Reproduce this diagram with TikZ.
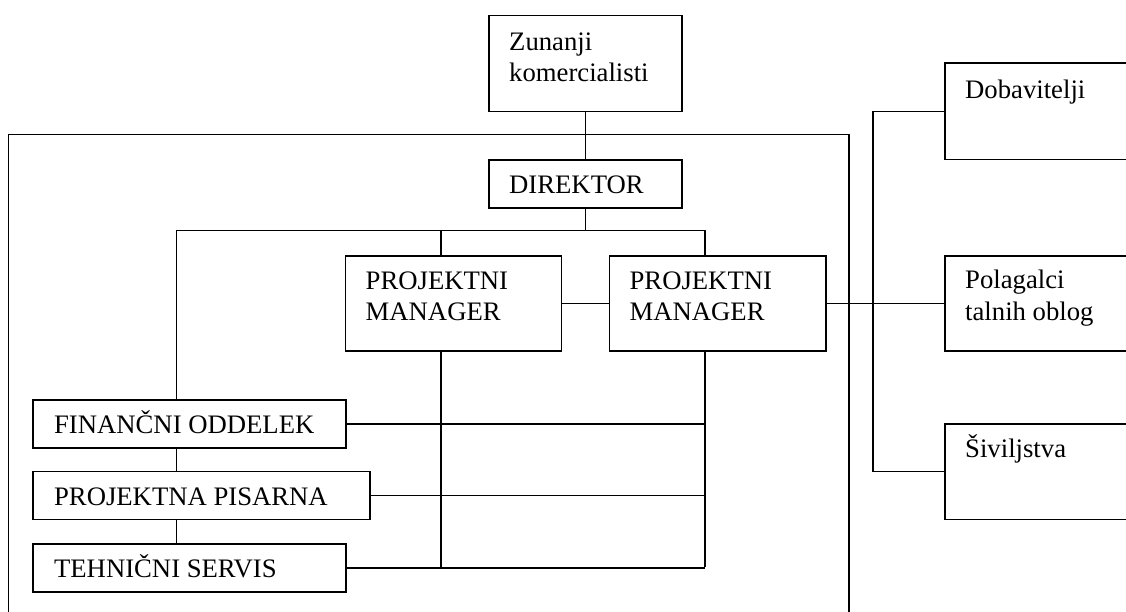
\documentclass[tikz,border=0pt]{standalone}
\usepackage{fontspec}
\setmainfont{Liberation Serif}
\begin{document}
\begin{tikzpicture}[x=1pt,y=-1pt,
  unit/.style={draw, line width=1.5pt, rectangle, inner sep=0pt, anchor=north west},
  caption/.style={inner sep=0pt, anchor=base west, align=left,
    font=\fontsize{26.7}{31.3}\selectfont},
  link/.style={line width=1.5pt}]
\useasboundingbox (0,0) rectangle (1126,611);
\clip (0,0) rectangle (1126,611);

% company frame (open below the picture edge)
\draw[link] (8.3,134.7) rectangle (849.2,700);

% boxes
\node[unit, minimum width=192.8pt, minimum height=96pt] (zun) at (488.3,14.7) {};
\node[unit, minimum width=192.8pt, minimum height=48pt] (dir) at (488.3,159) {};
\node[unit, minimum width=216.2pt, minimum height=95.3pt] (pm1) at (344.7,255) {};
\node[unit, minimum width=216.5pt, minimum height=95.3pt] (pm2) at (608.6,255) {};
\node[unit, minimum width=313.1pt, minimum height=48pt] (fin) at (32.3,399) {};
\node[unit, minimum width=336.8pt, minimum height=48pt] (pis) at (32.3,470.7) {};
\node[unit, minimum width=313.1pt, minimum height=48.3pt] (teh) at (32.3,543) {};
\node[unit, minimum width=200pt, minimum height=96.4pt] (dob) at (944.3,62.3) {};
\node[unit, minimum width=200pt, minimum height=95.3pt] (pol) at (944.3,255) {};
\node[unit, minimum width=200pt, minimum height=95.7pt] (siv) at (944.3,423) {};

% texts (multi-line captions sit on the baseline of their last line)
\node[caption] (zunT) at (509,81.3) {Zunanji\\komercialisti};
\node[caption] (dirT) at (509,193.3) {DIREKTOR};
\node[caption] (pm1T) at (365.5,320.3) {PROJEKTNI\\MANAGER};
\node[caption] (pm2T) at (629.4,320.3) {PROJEKTNI\\MANAGER};
\node[caption] (finT) at (53.9,433.7) {FINANČNI ODDELEK};
\node[caption] (pisT) at (53.9,505.3) {PROJEKTNA PISARNA};
\node[caption] (tehT) at (53.9,577.7) {TEHNIČNI SERVIS};
\node[caption] (dobT) at (965,98.3) {Dobavitelji};
\node[caption] (polT) at (965,320) {Polagalci\\talnih oblog};
\node[caption] (sivT) at (965,457.7) {Šiviljstva};

% routing points
\coordinate (busL) at (176.7,230.3);
\coordinate (busR) at (704.8,230.3);
\coordinate (pm1x) at (441,0);
\coordinate (supx) at (873.2,0);
\coordinate (lowY) at (0,566.7);

% connectors
\draw[link] (zun.south) -- (dir.north);
\draw[link] (dir.south) -- (dir.south |- busL);
\draw[link] (fin.north -| busL) -- (busL) -- (busR) -- (pm2.north -| busR);
\draw[link] (pm1x |- busL) -- (pm1x |- pm1.north);
\draw[link] (fin.south -| busL) -- (pis.north -| busL);
\draw[link] (pis.south -| busL) -- (teh.north -| busL);
\draw[link] (fin.east) -- (fin.east -| busR);
\draw[link] (pis.east) -- (pis.east -| busR);
\draw[link] (teh.east) -- (teh.east -| busR);
\draw[link] (pm1x |- pm1.south) -- (pm1x |- lowY);
\draw[link] (busR |- pm2.south) -- (busR |- lowY);
\draw[link] (pm1.east) -- (pm2.west);
\draw[link] (pm2.east) -- (pol.west);
\draw[link] (dob.west) -- (dob.west -| supx) -- (siv.west -| supx) -- (siv.west);
\end{tikzpicture}
\end{document}
